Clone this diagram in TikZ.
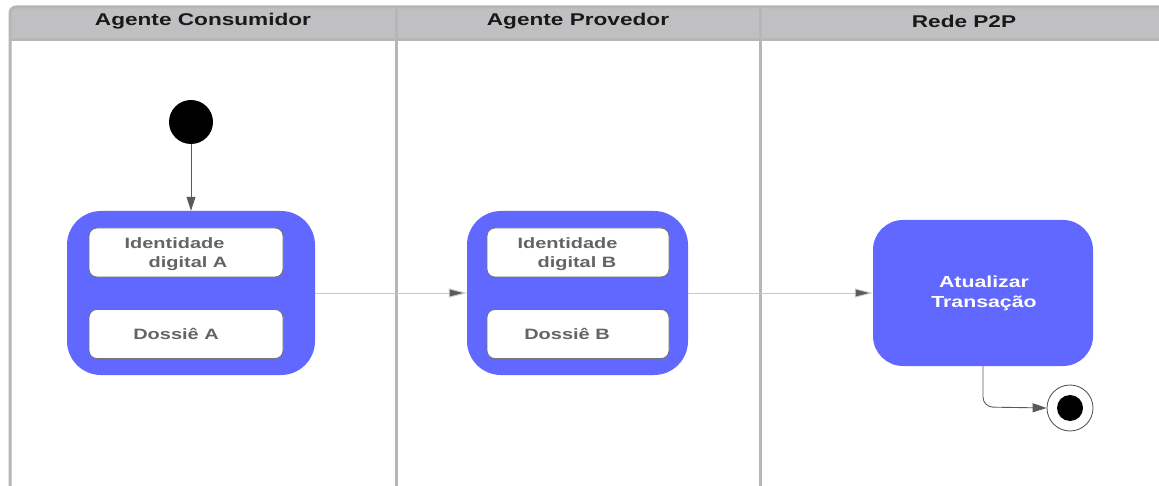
\documentclass[tikz,border=0pt]{standalone}
\usepackage{fontspec}
\setmainfont{Liberation Sans}
\newfontfamily\widesans[FakeStretch=1.33]{Liberation Sans}
\usetikzlibrary{arrows.meta}
\definecolor{lanegray}{RGB}{182,182,182}
\definecolor{headgray}{RGB}{192,192,194}
\definecolor{actblue}{RGB}{96,104,255}
\definecolor{subtext}{RGB}{100,100,100}
\definecolor{flowline}{RGB}{200,200,200}
\definecolor{tipgray}{RGB}{90,90,90}
\tikzset{
  lanehead/.style={font=\widesans\bfseries\fontsize{17}{19}\selectfont, text=black!90},
  activity/.style={draw=none, fill=actblue, rounded corners=34pt, inner sep=0pt},
  subbox/.style={draw=black!55, line width=0.8pt, fill=white, rounded corners=8pt,
    minimum width=194pt, minimum height=49pt, inner sep=0pt},
  subtxt/.style={align=left, text=subtext, inner sep=0pt,
    font=\widesans\bfseries\fontsize{15}{19}\selectfont},
  flow/.style={draw=flowline, line width=0.9pt, -{Triangle[length=18pt,width=9pt,fill=tipgray]}},
  down/.style={draw=tipgray, line width=0.9pt, -{Triangle[length=14pt,width=9pt,fill=tipgray]}},
}
\begin{document}
\begin{tikzpicture}[x=1pt,y=-1pt]
\useasboundingbox (0,0) rectangle (1159,486);
% swimlane frame and header band
\fill[headgray, rounded corners=6pt] (10,7) -- (1170,7) -- (1170,40) -- (10,40) -- cycle;
\draw[lanegray, line width=3pt, rounded corners=6pt] (10,500) -- (10,7) -- (1170,7);
\draw[lanegray, line width=3pt] (10,40) -- (1170,40);
\draw[lanegray, line width=3pt] (396,7) -- (396,500);
\draw[lanegray, line width=3pt] (760,7) -- (760,500);
\node[lanehead] (h1) at (203,21) {Agente Consumidor};
\node[lanehead] (h2) at (578,21) {Agente Provedor};
\node[lanehead] (h3) at (964,21) {Rede P2P};
% initial state
\node[circle, fill=black, minimum size=44pt, inner sep=0pt] (start) at (191,122) {};
% consumer activity
\node[activity, minimum width=248pt, minimum height=164pt] (actA) at (191,293) {};
\node[subbox] (idA) at (186,252.5) {};
\node[subtxt] (idAt) at (176,254.5) {Identidade\\\hspace*{24pt}digital A};
\node[subbox] (dosA) at (186,334) {};
\node[subtxt] (dosAt) at (176,334) {Dossiê A};
% provider activity
\node[activity, minimum width=221pt, minimum height=164pt] (actB) at (577.5,293) {};
\node[subbox, minimum width=182pt] (idB) at (578,252.5) {};
\node[subtxt] (idBt) at (567.5,254.5) {Identidade\\\hspace*{20pt}digital B};
\node[subbox, minimum width=182pt] (dosB) at (578,334) {};
\node[subtxt] (dosBt) at (567,334) {Dossiê B};
% network activity
\node[activity, rounded corners=30pt, minimum width=220pt, minimum height=146pt] (actC) at (983,293) {};
\node[text=white, align=center, inner sep=0pt, font=\widesans\bfseries\fontsize{16}{20}\selectfont]
  (actCt) at (984,293.5) {Atualizar\\Transação};
% final state
\node[circle, draw=black!70, line width=0.8pt, fill=white, minimum size=46pt, inner sep=0pt] (end) at (1070,408) {};
\node[circle, fill=black, minimum size=26pt, inner sep=0pt] (endin) at (end) {};
% transitions
\draw[down] (start) -- (actA);
\draw[flow] (actA) -- (actB);
\draw[flow] (actB) -- (actC);
\draw[down, rounded corners=10pt] (actC.south) -- (983,407) -- (end.west);
\end{tikzpicture}
\end{document}
